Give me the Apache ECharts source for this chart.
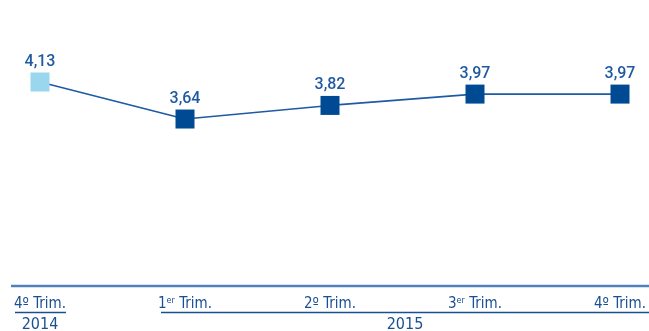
<!DOCTYPE html>
<html>
<head>
<meta charset="utf-8">
<script src="https://cdn.jsdelivr.net/npm/echarts@6/dist/echarts.min.js"></script>
<style>
html,body{margin:0;padding:0;background:#fff;}
#chart{width:649px;height:331px;}
</style>
</head>
<body>
<div id="chart"></div>
<script>
var categories = ['4º Trim.', '1er Trim.', '2º Trim.', '3er Trim.', '4º Trim.'];
var values = [4.13, 3.64, 3.82, 3.97, 3.97];
var highlight = [true, false, false, false, false];
var years = ['2014', '2015'];

var FONT = '"Liberation Sans Narrow", "DejaVu Sans Condensed", sans-serif';
var LFONT = 'Roboto, "DejaVu Sans", sans-serif';
var TXT = '#1a4f93';

function fmtCat(s) {
  var m = s.match(/^(\d)(er)(.*)$/);
  if (m) return '{n|' + m[1] + '}{s|' + m[2] + '}{n|' + m[3] + '}';
  return '{n|' + s + '}';
}

var chart = echarts.init(document.getElementById('chart'), null, {renderer: 'canvas'});
chart.setOption({
  animation: false,
  grid: {left: 40, right: 24, top: 82, bottom: 45, containLabel: false},
  xAxis: {
    type: 'category',
    data: categories,
    boundaryGap: false,
    axisLine: {show: false},
    axisTick: {show: false},
    splitLine: {show: false},
    axisLabel: {
      margin: 10,
      interval: 0,
      formatter: fmtCat,
      rich: {
        n: {fontFamily: FONT, fontSize: 15, color: TXT, lineHeight: 16, verticalAlign: 'bottom'},
        s: {fontFamily: FONT, fontSize: 9, color: TXT, lineHeight: 16, verticalAlign: 'top', padding: [0, 0, 6, 0]}
      }
    }
  },
  yAxis: {
    type: 'value', min: 1.43, max: 4.13, show: false
  },
  series: [{
    type: 'line',
    data: values.map(function (v, i) {
      return {value: v, itemStyle: {color: highlight[i] ? '#9bd6ef' : '#004a94'}};
    }),
    symbol: 'rect',
    symbolSize: 19,
    lineStyle: {color: '#1f5aa5', width: 1.6},
    label: {
      show: true, position: 'top', distance: 3,
      fontFamily: LFONT, fontWeight: 500, fontSize: 16, color: '#1f5aa0',
      formatter: function (p) { return p.value.toFixed(2).replace('.', ','); }
    },
    z: 3
  }],
  graphic: [
    {type: 'line', shape: {x1: 11, y1: 286, x2: 649, y2: 286}, style: {stroke: '#4f82bb', lineWidth: 2.5}},
    {type: 'line', shape: {x1: 15, y1: 312.5, x2: 66, y2: 312.5}, style: {stroke: '#1a4f8f', lineWidth: 1.5}},
    {type: 'line', shape: {x1: 161, y1: 312.5, x2: 649, y2: 312.5}, style: {stroke: '#1a4f8f', lineWidth: 1.5}},
    {type: 'text', x: 40, y: 325, style: {text: years[0], fontFamily: FONT, fontSize: 16, fill: TXT, align: 'center', verticalAlign: 'middle'}},
    {type: 'text', x: 405, y: 325, style: {text: years[1], fontFamily: FONT, fontSize: 16, fill: TXT, align: 'center', verticalAlign: 'middle'}}
  ]
});
</script>
</body>
</html>
